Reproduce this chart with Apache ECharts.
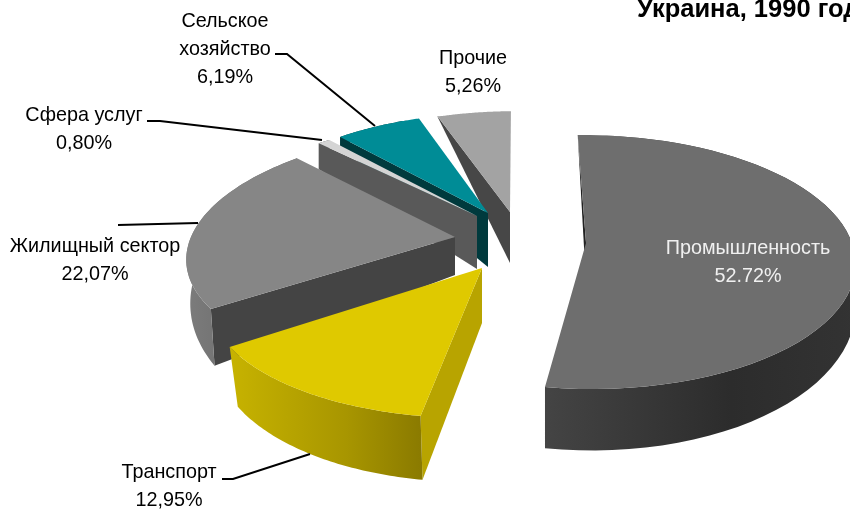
<!DOCTYPE html>
<html>
<head>
<meta charset="utf-8">
<style>
  html, body { margin: 0; padding: 0; background: #fff; }
  #main { width: 850px; height: 510px; overflow: hidden; }
</style>
</head>
<body>
<div id="main"></div>
<script src="https://cdn.jsdelivr.net/npm/echarts@6/dist/echarts.min.js"></script>
<script>
const chartTitle = "Украина, 1990 год";
const sectors = ["Промышленность", "Транспорт", "Жилищный сектор", "Сфера услуг", "Сельское хозяйство", "Прочие"];
const shares = [52.72, 12.95, 22.07, 0.8, 6.19, 5.26];

// look of each slice, same order as sectors: apex, radii, perspective, skew, wall depth
const sliceShapes = [
  { ax: 586, ay: 243, rx: 266, ry: 127, k: 0.15, sk: 0.04, d0: 40, front: 0.147, back: 0.37, c: 0.0, layer: 5 },
  { ax: 482, ay: 268, rx: 268, ry: 125, k: 0.2, sk: -0.083, d0: 55, front: 0.06, back: 0.3, c: 0.032, layer: 4 },
  { ax: 455, ay: 237, rx: 264, ry: 120, k: 0.1, sk: -0.2, d0: 38, front: 0.26, back: 0.3, c: 0.015, layer: 3 },
  { ax: 477, ay: 216, rx: 269, ry: 111, k: 0.1, sk: -0.26, d0: 53, front: 0.3, back: 0.37, c: 0.0, layer: 2 },
  { ax: 488, ay: 213, rx: 247, ry: 111, k: 0.1, sk: -0.077, d0: 54, front: 0.3, back: 0.58, c: 0.0, layer: 1 },
  { ax: 510, ay: 212, rx: 249, ry: 112, k: 0.1, sk: -0.048, d0: 51, front: 0.3, back: 0.53, c: 0.0, layer: 0 },
];
const topColors = ["#6e6e6e", "#dfc900", "#868686", "#d4d4d4", "#008c96", "#a3a3a3"];
const sideColors = ["#222222", "#b8a400", "#444444", "#595959", "#003a3d", "#474747"];
const wallColors = [
  ["#444444", "#2c2c2c", "#333333"],
  ["#c7b300", "#a89600", "#8a7a00"],
  ["#7c7c7c", "#6a6a6a", "#666666"],
  ["#595959", "#595959", "#595959"],
  ["#003a3d", "#003a3d", "#003a3d"],
  ["#474747", "#474747", "#474747"],
];

const startAngle = -1;
const total = shares.reduce((a, b) => a + b, 0);

function topPoint(s, deg) {
  const t = (deg * Math.PI) / 180;
  const u = Math.sin(t);
  const v = -Math.cos(t);
  const p = 1 + s.k * v;
  const y = s.ry * v * p;
  const x = s.rx * u * p + s.sk * y;
  return [x, y];
}

function bottomOf(s, r) {
  const grow = r[1] < 0 ? s.back : s.front;
  const d = Math.max(0, s.d0 + grow * r[1]);
  return [s.ax + r[0] * (1 - s.c), s.ay + r[1] + d];
}

function renderSlice(params, api) {
  const i = params.dataIndex;
  const s = sliceShapes[i];
  let before = 0;
  for (let j = 0; j < i; j++) before += shares[j];
  const a0 = startAngle + (before / total) * 360;
  const a1 = a0 + (api.value(0) / total) * 360;

  const arcTop = [];
  const arcBottom = [];
  for (let n = 0; n <= 60; n++) {
    const r = topPoint(s, a0 + ((a1 - a0) * n) / 60);
    arcTop.push([s.ax + r[0], s.ay + r[1]]);
    arcBottom.push(bottomOf(s, r));
  }
  const apex = [s.ax, s.ay];
  const apexBottom = bottomOf(s, [0, 0]);
  const wall = wallColors[i];

  return {
    type: "group",
    children: [
      {
        type: "polygon",
        z2: s.layer * 3,
        shape: { points: [apex, arcTop[0], arcBottom[0], apexBottom] },
        style: { fill: sideColors[i] },
      },
      {
        type: "polygon",
        z2: s.layer * 3 + 1,
        shape: { points: arcTop.concat(arcBottom.slice().reverse()) },
        style: {
          fill: new echarts.graphic.LinearGradient(0, 0, 1, 0, [
            { offset: 0, color: wall[0] },
            { offset: 0.6, color: wall[1] },
            { offset: 1, color: wall[2] },
          ]),
        },
      },
      {
        type: "polygon",
        z2: s.layer * 3 + 2,
        shape: { points: [apex].concat(arcTop) },
        style: { fill: topColors[i] },
      },
    ],
  };
}

function label(x, y, text, color) {
  return {
    type: "text",
    x: x,
    y: y,
    z: 10,
    style: {
      text: text,
      fill: color || "#000",
      font: "19.8px 'Liberation Sans', Arial, sans-serif",
      align: "center",
      verticalAlign: "middle",
      lineHeight: 28,
    },
  };
}

function leader(points) {
  return {
    type: "polyline",
    z: 9,
    shape: { points: points },
    style: { stroke: "#000", lineWidth: 2, fill: null },
  };
}

var myChart = echarts.init(document.getElementById("main"), null, { renderer: "canvas" });
myChart.setOption({
  animation: false,
  backgroundColor: "#fff",
  series: [
    {
      type: "custom",
      coordinateSystem: "none",
      silent: true,
      renderItem: renderSlice,
      data: shares.map((v, i) => ({ name: sectors[i], value: [v] })),
    },
  ],
  graphic: [
    {
      type: "text",
      x: 637,
      y: 10,
      z: 10,
      style: {
        text: chartTitle,
        fill: "#000",
        font: "bold 25.5px 'Liberation Sans', Arial, sans-serif",
        verticalAlign: "middle",
      },
    },
    label(225, 50, "Сельское\nхозяйство\n6,19%"),
    label(473, 73, "Прочие\n5,26%"),
    label(84, 130, "Сфера услуг\n0,80%"),
    label(95, 261, "Жилищный сектор\n22,07%"),
    label(169, 487, "Транспорт\n12,95%"),
    label(748, 263, "Промышленность\n52.72%", "#f0f0f0"),
    leader([[275, 54], [287, 54], [375, 126]]),
    leader([[147, 121], [160, 121], [322, 140]]),
    leader([[118, 225], [198, 223]]),
    leader([[222, 479], [233, 479], [310, 454]]),
  ],
});
</script>
</body>
</html>
